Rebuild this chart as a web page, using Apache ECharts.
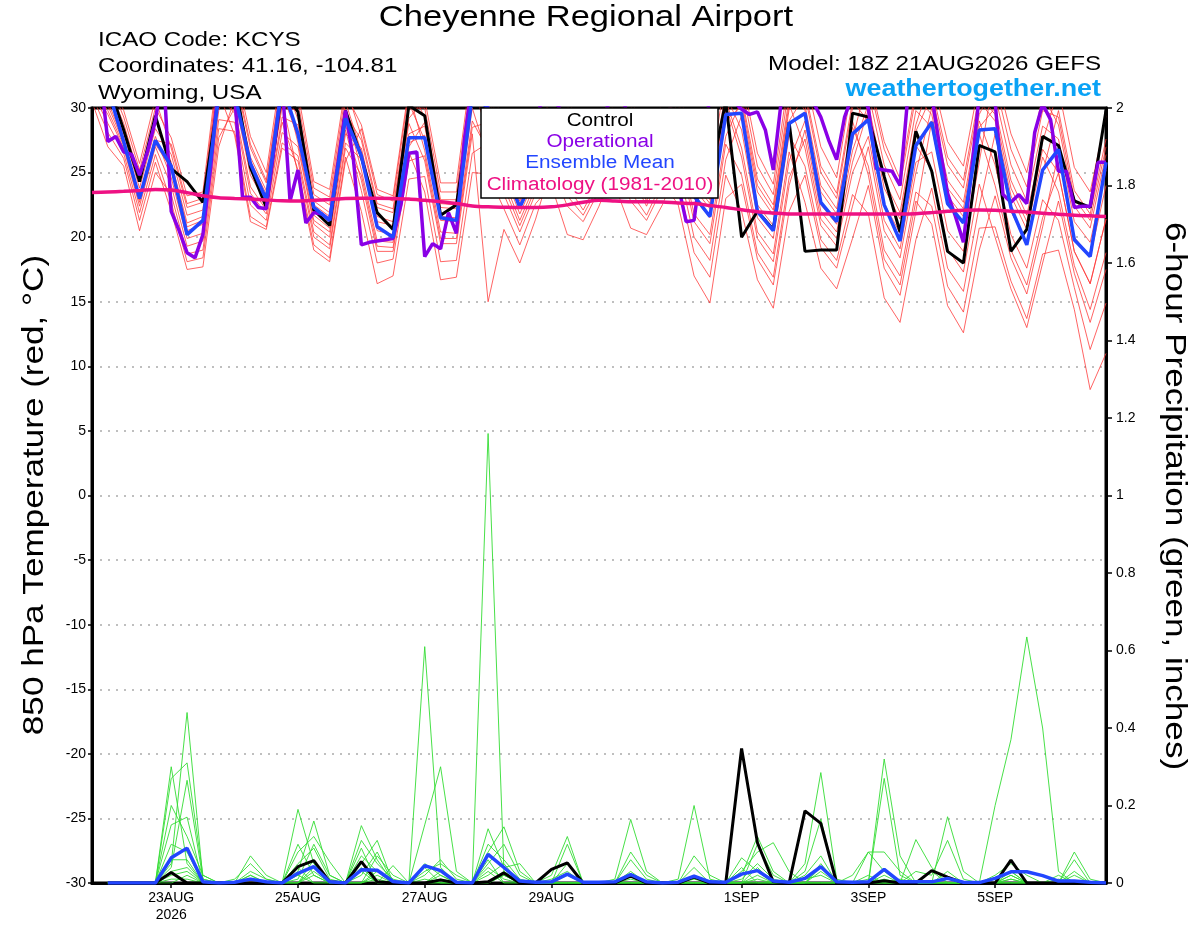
<!DOCTYPE html>
<html>
<head>
<meta charset="utf-8">
<title>Cheyenne Regional Airport</title>
<script src="https://cdn.jsdelivr.net/npm/echarts@6.0.0/dist/echarts.min.js"></script>
<style>
  html, body { margin: 0; padding: 0; background: #fff; }
  #main { width: 1200px; height: 927px; }
</style>
</head>
<body>
<div id="main"></div>
<script>
// time = hours since 18Z 21AUG2026 (6-hourly steps, operational run is 3-hourly)
const tickHours = [30, 78, 126, 174, 246, 294, 342];
const tickLabels = ['23AUG\n2026', '25AUG', '27AUG', '29AUG', '1SEP', '3SEP', '5SEP'];

// 850 hPa temperature, deg C, 6-hourly from 18Z 21AUG
const controlTemp = [33.0, 32.0, 28.3, 24.3, 29.4, 25.3, 24.3, 22.7, 31.0, 32.0, 25.4, 22.3, 31.5, 29.7, 22.1, 20.9,
  29.8, 26.2, 21.9, 20.6, 30.2, 29.4, 21.7, 22.5, 31.0, 30.0, 27.0, 24.0, 26.0, 29.0, 28.0, 24.5,
  26.0, 29.0, 28.5, 24.5, 27.0, 29.5, 27.0, 24.5, 30.5, 20.0, 22.0, 20.6, 28.9, 18.9, 19.0, 19.0,
  29.6, 29.3, 24.7, 20.4, 28.2, 25.1, 18.9, 18.0, 27.1, 26.6, 18.9, 20.6, 27.8, 27.1, 22.8, 22.3, 29.8];

const meanTemp = [32.5, 31.5, 27.4, 23.0, 27.5, 25.5, 20.2, 21.3, 31.0, 31.1, 25.7, 22.9, 31.8, 28.0, 22.3, 21.3,
  29.2, 26.3, 20.8, 20.0, 27.7, 27.7, 21.5, 21.3, 31.0, 30.0, 25.5, 22.3, 25.0, 29.5, 28.5, 24.5,
  26.0, 29.5, 28.0, 24.0, 27.0, 29.0, 23.2, 21.6, 29.5, 29.6, 22.0, 20.5, 28.8, 29.6, 22.7, 21.2,
  28.0, 29.1, 22.5, 19.7, 27.1, 28.9, 22.6, 21.1, 28.3, 28.4, 22.3, 19.4, 25.2, 26.8, 19.8, 18.5, 25.8];

const climoTemp = [23.45, 23.5, 23.55, 23.62, 23.7, 23.65, 23.45, 23.2, 23.05, 23.0, 22.95, 22.88, 22.82, 22.8, 22.85, 22.92,
  23.0, 23.02, 23.02, 23.0, 22.95, 22.85, 22.75, 22.6, 22.42, 22.35, 22.32, 22.3, 22.3, 22.35, 22.5, 22.7,
  22.85, 22.8, 22.75, 22.75, 22.72, 22.65, 22.6, 22.45, 22.3, 22.12, 21.97, 21.88, 21.8, 21.8, 21.8, 21.8,
  21.8, 21.8, 21.8, 21.8, 21.82, 21.9, 22.0, 22.08, 22.1, 22.08, 22.0, 21.95, 21.85, 21.78, 21.7, 21.65, 21.6];

// operational run, 3-hourly from 18Z 21AUG
const operationalTemp = [34, 33, 27.4, 27.8, 26.6, 26.4, 24.8, 26.6, 29.0, 33,
  22.0, 20.5, 18.8, 18.4, 20.2, 25.5, 32, 33, 31, 23.1,
  23.1, 22.3, 22.2, 27, 32, 22.8, 25.2, 21.1, 21.9, 21.8,
  21.3, 25.5, 29.8, 26, 19.4, 19.6, 19.7, 19.8, 19.9, 22.5,
  26.5, 26.6, 18.5, 19.5, 19.1, 21.9, 20.3, 27.5, 32, 31,
  30, 27, 25, 24.5, 24, 26, 29, 31, 31, 30,
  27, 25, 24, 24.5, 27, 30, 31.5, 31, 28, 26,
  25, 24.5, 27, 30, 24, 21.2, 21.3, 26, 31, 31,
  31, 30.5, 29.9, 29.5, 29.7, 28.3, 25.2, 30.5, 32, 32,
  31, 30.5, 29.3, 27.5, 26.0, 29.3, 31, 31, 30, 25.3,
  25.2, 25.1, 24.0, 31, 32, 32, 31, 27, 23.4, 21.6,
  19.6, 25, 31, 31.5, 30.5, 23.3, 22.7, 23.3, 22.6, 28.1,
  30.3, 29.1, 25.1, 25.1, 22.3, 22.4, 22.4, 25.8, 25.8];

// ensemble members, 6-hourly from 18Z 21AUG
const memberTemp = [
  [32.4, 31.0, 28.0, 23.8, 28.4, 26.4, 21.7, 22.1, 31.9, 32.8, 27.2, 24.4, 32.6, 29.1, 22.8, 21.9, 29.9, 25.2, 19.7, 19.6, 27.3, 27.9, 21.6, 21.5, 30.4, 30.3, 27.5, 23.7, 27.0, 31.3, 30.2, 26.8, 29.2, 29.9, 28.6, 24.9, 28.1, 26.7, 21.2, 19.5, 27.2, 24.8, 18.8, 16.9, 24.6, 27.6, 21.4, 19.9, 25.8, 29.9, 23.8, 21.4, 28.2, 31.0, 25.6, 23.8, 30.5, 29.0, 23.2, 20.6, 26.2, 23.5, 17.8, 14.4, 18.8],
  [31.3, 28.8, 26.5, 21.9, 26.4, 22.7, 18.1, 18.4, 27.7, 30.0, 23.9, 22.1, 29.3, 28.7, 22.5, 21.6, 29.6, 27.5, 22.3, 21.9, 30.0, 30.0, 23.5, 23.5, 32.8, 29.2, 26.3, 22.8, 25.8, 26.5, 24.0, 22.1, 24.4, 24.0, 20.7, 20.2, 22.5, 25.5, 20.0, 18.2, 26.0, 29.4, 22.5, 20.9, 29.0, 31.0, 25.0, 23.0, 30.0, 32.1, 26.8, 24.0, 30.9, 29.5, 23.8, 22.2, 29.0, 25.6, 20.2, 17.6, 22.9, 21.3, 16.1, 11.3, 14.9],
  [33.4, 32.3, 29.3, 25.2, 30.0, 27.7, 23.2, 23.5, 33.7, 32.5, 26.9, 24.2, 32.3, 27.3, 21.3, 20.4, 28.3, 23.6, 18.0, 18.3, 25.9, 26.3, 19.9, 19.9, 28.5, 28.9, 25.9, 22.6, 25.4, 29.6, 28.2, 25.1, 27.2, 30.6, 29.4, 25.6, 28.9, 31.7, 26.6, 24.7, 32.6, 31.8, 25.5, 23.3, 31.7, 29.8, 23.5, 21.8, 28.5, 25.5, 19.0, 17.0, 23.5, 22.4, 16.2, 14.2, 20.7, 20.8, 16.6, 13.7, 18.7, 19.0, 14.4, 8.2, 11.0],
  [31.7, 29.8, 27.1, 22.7, 27.2, 25.3, 20.5, 21.0, 30.5, 31.9, 26.2, 23.6, 31.6, 30.5, 23.8, 23.1, 31.1, 28.7, 23.7, 23.2, 31.6, 29.3, 22.9, 22.9, 32.0, 27.9, 25.0, 21.8, 24.6, 26.0, 23.2, 21.7, 24.0, 27.5, 25.6, 22.8, 25.6, 29.2, 23.8, 22.2, 29.8, 31.0, 24.5, 22.5, 30.8, 32.6, 27.0, 24.6, 32.0, 31.2, 25.6, 22.9, 29.8, 28.5, 22.6, 21.1, 28.0, 24.0, 19.0, 16.3, 21.5, 25.0, 18.9, 16.4, 21.4],
  [30.5, 27.0, 25.5, 20.5, 25.0, 23.3, 18.7, 19.0, 28.4, 28.2, 21.6, 20.8, 27.3, 26.3, 20.4, 19.4, 27.3, 26.0, 20.5, 20.2, 28.0, 28.6, 22.3, 22.2, 31.2, 30.6, 27.9, 23.9, 27.4, 29.2, 27.8, 24.7, 26.8, 27.0, 24.9, 22.4, 25.2, 24.3, 18.8, 16.9, 24.8, 22.0, 16.7, 14.5, 22.0, 24.8, 19.2, 17.6, 22.4, 27.0, 20.5, 18.4, 25.0, 30.0, 24.4, 22.7, 29.5, 32.0, 26.8, 23.9, 29.8, 29.3, 23.0, 21.3, 27.0],
  [33.0, 31.8, 28.8, 24.6, 29.4, 25.6, 20.8, 21.3, 30.9, 29.6, 23.4, 21.8, 28.9, 25.2, 19.4, 18.4, 26.2, 22.0, 16.4, 17.0, 24.5, 24.7, 18.1, 18.2, 26.5, 27.3, 24.4, 21.3, 24.2, 29.9, 28.6, 25.4, 27.6, 31.3, 30.2, 26.3, 29.7, 30.3, 25.0, 23.3, 31.0, 28.3, 21.5, 19.9, 27.9, 25.5, 19.8, 18.2, 23.3, 21.8, 15.3, 13.4, 19.8, 23.8, 17.6, 15.8, 22.4, 28.0, 22.0, 19.5, 25.0, 29.8, 23.6, 21.8, 27.6],
  [31.6, 29.5, 26.9, 22.4, 27.0, 24.0, 19.3, 19.7, 29.1, 28.9, 22.5, 21.3, 28.1, 27.0, 21.0, 20.0, 28.0, 26.9, 21.6, 21.2, 29.2, 30.7, 24.2, 24.2, 33.6, 31.0, 28.3, 24.2, 27.8, 28.5, 27.0, 24.0, 26.0, 26.0, 23.5, 21.7, 24.3, 22.5, 17.0, 14.9, 23.0, 24.1, 18.3, 16.3, 24.0, 28.3, 22.0, 20.4, 26.7, 30.3, 24.4, 21.9, 28.7, 32.5, 27.4, 25.5, 32.0, 31.0, 25.6, 22.8, 28.6, 27.6, 21.2, 19.6, 25.2],
  [33.8, 32.8, 29.8, 25.7, 30.7, 26.9, 22.3, 22.7, 32.6, 31.6, 25.9, 23.3, 31.2, 27.7, 21.7, 20.7, 28.7, 24.4, 18.9, 18.9, 26.6, 23.5, 16.7, 16.9, 25.0, 24.9, 22.2, 19.4, 22.6, 24.0, 20.2, 19.8, 22.4, 25.5, 22.8, 21.3, 23.8, 28.5, 23.0, 21.5, 29.0, 30.2, 23.5, 21.7, 29.9, 31.4, 25.5, 23.4, 30.5, 29.0, 22.6, 20.3, 27.1, 25.2, 19.1, 17.3, 24.1, 20.0, 16.0, 13.0, 18.0, 22.8, 17.2, 13.4, 17.5],
  [32.0, 30.5, 27.5, 23.2, 27.8, 24.6, 19.9, 20.3, 29.8, 33.4, 27.8, 25.0, 33.3, 31.2, 24.3, 23.7, 31.7, 27.8, 22.6, 22.2, 30.4, 27.5, 21.3, 21.2, 30.0, 26.1, 23.3, 20.4, 23.4, 28.0, 26.2, 23.5, 25.6, 29.2, 27.8, 24.2, 27.3, 30.6, 25.4, 23.6, 31.4, 32.6, 26.5, 24.1, 32.6, 30.2, 24.0, 22.2, 29.0, 24.8, 18.3, 16.3, 22.8, 21.0, 14.7, 12.6, 19.0, 23.2, 18.4, 15.6, 20.8, 26.5, 20.0, 18.5, 24.0],
  [31.0, 28.1, 26.1, 21.3, 25.8, 22.0, 17.5, 17.7, 27.0, 30.7, 24.8, 22.6, 30.1, 29.8, 23.3, 22.5, 30.5, 26.6, 21.2, 20.9, 28.8, 25.9, 19.5, 19.5, 28.0, 15.0, 20.6, 18.0, 21.4, 25.5, 22.4, 21.2, 23.6, 28.5, 27.0, 23.5, 26.5, 29.9, 24.6, 22.9, 30.6, 26.9, 20.4, 18.7, 26.6, 22.7, 17.6, 16.0, 19.9, 24.0, 17.6, 15.5, 22.0, 29.0, 23.2, 21.6, 28.5, 30.0, 24.4, 21.7, 27.4, 31.5, 25.4, 23.5, 29.4],
  [32.8, 31.5, 28.5, 24.3, 29.1, 25.8, 21.1, 21.6, 31.2, 27.9, 21.2, 20.6, 26.9, 25.9, 20.0, 19.1, 26.9, 24.8, 19.3, 19.2, 27.0, 28.9, 22.6, 22.5, 31.6, 31.7, 29.1, 24.7, 28.6, 30.6, 29.4, 26.1, 28.4, 32.0, 31.0, 27.0, 30.5, 29.6, 24.2, 22.6, 30.2, 26.2, 19.9, 18.1, 25.9, 29.0, 22.5, 21.0, 27.5, 32.6, 27.4, 24.5, 31.5, 31.5, 26.2, 24.4, 31.0, 29.5, 23.8, 21.2, 26.8, 25.0, 18.9, 16.4, 21.4],
  [31.9, 30.2, 27.3, 22.9, 27.5, 27.2, 22.6, 23.0, 33.0, 31.0, 25.2, 22.8, 30.5, 24.9, 19.0, 18.1, 25.9, 28.4, 23.3, 22.8, 31.2, 26.7, 20.4, 20.3, 29.0, 26.7, 23.9, 20.9, 23.8, 32.0, 31.0, 27.5, 30.0, 28.0, 26.3, 23.1, 26.1, 27.3, 21.8, 20.2, 27.8, 30.6, 24.0, 22.1, 30.3, 26.9, 20.9, 19.3, 25.0, 27.8, 21.3, 19.1, 25.8, 26.6, 20.5, 18.9, 25.8, 33.0, 28.0, 25.0, 31.0, 28.7, 22.4, 20.7, 26.4]
];

// 6-hour precipitation, inches, 6-hourly from 00Z 22AUG
const controlPrecip = [0, 0, 0, 0, 0.027, 0, 0, 0, 0, 0, 0, 0, 0.042, 0.058, 0.003, 0,
  0.055, 0.003, 0, 0, 0, 0.008, 0, 0, 0.003, 0.026, 0, 0, 0.035, 0.052, 0, 0,
  0, 0.018, 0, 0, 0, 0.015, 0, 0, 0.347, 0.104, 0.003, 0, 0.186, 0.154, 0, 0,
  0, 0.006, 0, 0, 0.032, 0.015, 0, 0, 0, 0.059, 0, 0, 0, 0.002, 0, 0];

const meanPrecip = [0, 0, 0, 0, 0.065, 0.09, 0.003, 0, 0.002, 0.01, 0.003, 0, 0.025, 0.042, 0.003, 0,
  0.034, 0.033, 0.004, 0, 0.045, 0.032, 0.002, 0, 0.074, 0.04, 0.005, 0.002, 0.003, 0.023, 0.002, 0.002,
  0.003, 0.022, 0.003, 0, 0.002, 0.018, 0.003, 0.002, 0.023, 0.032, 0.005, 0.002, 0.012, 0.042, 0.003, 0.002,
  0.003, 0.035, 0.003, 0.003, 0.003, 0.012, 0.002, 0.001, 0.012, 0.029, 0.029, 0.019, 0.005, 0.005, 0.002, 0];

const memberPrecip = [
  [0, 0, 0, 0, 0.30, 0.05, 0, 0, 0, 0, 0, 0, 0, 0.02, 0, 0, 0, 0.03, 0, 0, 0, 0, 0, 0, 0.02, 0.05, 0, 0, 0, 0.02, 0, 0, 0, 0, 0, 0, 0, 0, 0, 0, 0, 0.01, 0, 0, 0, 0, 0, 0, 0, 0, 0, 0, 0, 0, 0, 0, 0, 0, 0, 0, 0, 0, 0, 0],
  [0, 0, 0, 0, 0.02, 0.03, 0, 0, 0, 0.07, 0.02, 0, 0.19, 0.05, 0, 0, 0.148, 0.06, 0, 0, 0.15, 0.30, 0.03, 0, 0, 0.02, 0, 0, 0, 0, 0, 0, 0, 0.03, 0, 0, 0, 0, 0, 0, 0.065, 0.03, 0, 0, 0, 0.05, 0, 0, 0.08, 0.08, 0.03, 0, 0, 0, 0, 0, 0, 0.03, 0, 0, 0.02, 0, 0, 0],
  [0, 0, 0, 0, 0.27, 0.31, 0.02, 0, 0, 0, 0, 0, 0.03, 0.16, 0.02, 0, 0.05, 0.11, 0, 0, 0, 0.02, 0, 0, 0.14, 0.04, 0.05, 0, 0, 0, 0, 0, 0, 0, 0, 0, 0, 0.07, 0.02, 0, 0.02, 0.12, 0.03, 0, 0, 0, 0, 0, 0, 0, 0, 0, 0, 0, 0, 0, 0.20, 0.37, 0.635, 0.40, 0.03, 0, 0, 0],
  [0, 0, 0, 0, 0.05, 0.44, 0.01, 0, 0, 0.02, 0, 0, 0.08, 0.12, 0.055, 0, 0, 0.02, 0, 0, 0.61, 0.04, 0, 0, 0.05, 0.10, 0.02, 0, 0.02, 0.12, 0, 0, 0, 0, 0, 0, 0, 0, 0, 0, 0, 0, 0, 0, 0.02, 0.07, 0, 0, 0, 0.32, 0.07, 0, 0.03, 0, 0, 0, 0, 0.02, 0, 0, 0, 0, 0, 0],
  [0, 0, 0, 0, 0.15, 0.17, 0, 0, 0, 0, 0, 0, 0, 0.03, 0, 0, 0.09, 0, 0.045, 0, 0.04, 0, 0, 0, 1.16, 0.03, 0, 0, 0, 0, 0, 0, 0.01, 0.164, 0.03, 0, 0, 0.02, 0, 0, 0.03, 0.08, 0.104, 0.03, 0, 0, 0, 0, 0.02, 0, 0, 0, 0, 0, 0, 0, 0, 0.01, 0, 0, 0, 0.08, 0.01, 0],
  [0, 0, 0, 0, 0, 0.02, 0, 0, 0.01, 0.05, 0.01, 0, 0.05, 0.09, 0.01, 0, 0.02, 0.08, 0, 0, 0, 0.03, 0, 0, 0.08, 0.145, 0.03, 0, 0, 0, 0, 0, 0, 0.06, 0.01, 0, 0, 0, 0, 0, 0, 0.02, 0, 0, 0.05, 0.285, 0.01, 0, 0, 0, 0, 0.112, 0.04, 0, 0, 0, 0, 0, 0, 0, 0, 0, 0, 0],
  [0, 0, 0, 0, 0.04, 0.265, 0.01, 0, 0, 0, 0, 0, 0.02, 0, 0, 0, 0.11, 0.05, 0.01, 0, 0.02, 0.06, 0.01, 0, 0.03, 0, 0, 0, 0, 0.05, 0, 0, 0, 0, 0, 0, 0.01, 0.20, 0.01, 0, 0, 0, 0, 0, 0, 0, 0, 0, 0, 0.27, 0.02, 0, 0, 0, 0, 0, 0.02, 0.05, 0.02, 0, 0, 0.06, 0, 0],
  [0, 0, 0, 0, 0.10, 0.08, 0, 0, 0, 0.01, 0, 0, 0, 0.06, 0, 0, 0, 0.01, 0, 0, 0, 0, 0, 0, 0, 0.02, 0, 0, 0.01, 0.03, 0, 0, 0, 0.02, 0, 0, 0, 0, 0, 0, 0.01, 0.05, 0.01, 0, 0.03, 0.165, 0, 0, 0, 0.02, 0, 0, 0, 0, 0, 0, 0, 0, 0, 0, 0.01, 0, 0, 0],
  [0, 0, 0, 0, 0.01, 0.01, 0, 0, 0, 0.03, 0.01, 0, 0.10, 0.02, 0, 0, 0.03, 0, 0, 0, 0.05, 0.02, 0, 0, 0.10, 0.06, 0.01, 0, 0, 0, 0, 0, 0, 0, 0, 0, 0, 0.04, 0, 0, 0, 0, 0, 0, 0, 0.03, 0, 0.02, 0.08, 0.03, 0, 0, 0, 0.171, 0.03, 0, 0, 0.02, 0, 0, 0, 0.02, 0, 0],
  [0, 0, 0, 0, 0.03, 0.04, 0, 0, 0, 0, 0, 0, 0.01, 0.10, 0.02, 0, 0.07, 0.03, 0, 0, 0.01, 0, 0, 0, 0.04, 0.01, 0, 0, 0, 0, 0, 0, 0, 0.08, 0.02, 0, 0, 0, 0, 0, 0, 0.10, 0.02, 0, 0, 0, 0, 0, 0, 0, 0, 0, 0, 0, 0, 0, 0.01, 0.03, 0, 0, 0, 0, 0, 0],
  [0, 0, 0, 0, 0.20, 0.12, 0.02, 0, 0, 0, 0, 0, 0.04, 0, 0, 0, 0, 0.07, 0.02, 0, 0, 0.01, 0, 0, 0.06, 0, 0, 0, 0, 0.10, 0, 0, 0, 0, 0, 0, 0, 0.01, 0, 0, 0.04, 0, 0, 0, 0.01, 0.02, 0, 0, 0, 0.01, 0, 0.03, 0.02, 0.11, 0.01, 0, 0, 0, 0, 0, 0, 0.03, 0, 0],
  [0, 0, 0, 0, 0.06, 0.06, 0, 0, 0, 0.02, 0, 0, 0, 0.04, 0, 0, 0.04, 0, 0, 0, 0.03, 0.05, 0.02, 0, 0, 0.03, 0, 0, 0, 0, 0, 0, 0, 0.01, 0, 0, 0, 0, 0, 0, 0, 0.04, 0, 0, 0, 0.04, 0, 0, 0.01, 0, 0.01, 0, 0, 0.03, 0, 0, 0, 0.01, 0, 0, 0, 0, 0, 0]
];

const FONT = '"Liberation Sans", Arial, Helvetica, sans-serif';
const RED = '#ff3333';
const GREEN = '#33dd33';
const PURPLE = '#8a00e6';
const BLUE = '#2246ff';
const PINK = '#ee1183';

// [hour, value] pairs; first = index of the first value, step = hours between values
function timed(values, step, first) {
  return values.map((v, k) => [(first + k) * step, v]);
}

function line(name, data, color, width, axis, extra) {
  return Object.assign({
    name: name,
    type: 'line',
    yAxisIndex: axis,
    data: data,
    symbol: 'none',
    showSymbol: false,
    silent: true,
    animation: false,
    lineStyle: { color: color, width: width },
    itemStyle: { color: color }
  }, extra || {});
}

// text drawn with a horizontal stretch (the original lettering is wider than Arial)
function label(text, x, y, size, align, color, stretch, rotation, weight) {
  return {
    type: 'text', z: 100, x: x, y: y, scaleX: stretch, rotation: rotation || 0,
    style: {
      text: text, x: 0, y: 0, fill: color,
      font: (weight ? weight + ' ' : '') + size + 'px ' + FONT,
      align: align, verticalAlign: 'middle', textAlign: align, textVerticalAlign: 'middle'
    }
  };
}

const series = [];
memberTemp.forEach((m, k) => series.push(line('member ' + (k + 1), timed(m, 6, 0), RED, 0.9, 0, { z: 1, lineStyle: { color: RED, width: 0.9, opacity: 0.85 } })));
memberPrecip.forEach((m, k) => series.push(line('member p' + (k + 1), timed(m, 6, 1), GREEN, 0.9, 1, { z: 1 })));
series.push(line('Control', timed(controlTemp, 6, 0), '#000', 3, 0, { z: 3 }));
series.push(line('Control precip', timed(controlPrecip, 6, 1), '#000', 3, 1, { z: 3 }));
series.push(line('Operational', timed(operationalTemp, 3, 0), PURPLE, 3.5, 0, { z: 4 }));
series.push(line('Ensemble Mean', timed(meanTemp, 6, 0), BLUE, 3.5, 0, { z: 5 }));
series.push(line('Ensemble Mean precip', timed(meanPrecip, 6, 1), BLUE, 3.5, 1, { z: 5 }));
series.push(line('Climatology (1981-2010)', timed(climoTemp, 6, 0), PINK, 3.5, 0, { z: 6, smooth: 0.3 }));

const chart = echarts.init(document.getElementById('main'));

chart.setOption({
  animation: false,
  backgroundColor: '#fff',
  textStyle: { fontFamily: FONT },
  grid: { left: 92, right: 94, top: 108, bottom: 44, show: true, borderColor: '#000', borderWidth: 3, backgroundColor: 'transparent' },
  xAxis: {
    type: 'value',
    min: 0,
    max: 384,
    axisLine: { show: true, onZero: false, lineStyle: { color: '#000', width: 3 } },
    axisTick: { show: true, customValues: tickHours, length: 5, lineStyle: { color: '#000', width: 1.5 } },
    axisLabel: {
      customValues: tickHours,
      formatter: v => tickLabels[tickHours.indexOf(v)] || '',
      color: '#000', fontSize: 14, fontFamily: FONT, margin: 7, lineHeight: 17
    },
    splitLine: { show: false }
  },
  yAxis: [
    {
      type: 'value',
      min: -30, max: 30, interval: 5,
      position: 'left',
      axisLine: { show: true, onZero: false, lineStyle: { color: '#000', width: 3 } },
      axisTick: { show: true, length: 4, lineStyle: { color: '#000', width: 1.5 } },
      axisLabel: { color: '#000', fontSize: 14, fontFamily: FONT, margin: 6 },
      splitLine: { show: true, showMinLine: false, showMaxLine: false, lineStyle: { color: '#aaa', width: 1.5, type: [2, 6] } }
    },
    {
      type: 'value',
      min: 0, max: 2, interval: 0.2,
      position: 'right',
      axisLine: { show: true, onZero: false, lineStyle: { color: '#000', width: 3 } },
      axisTick: { show: true, length: 6, lineStyle: { color: '#000', width: 1.5 } },
      axisLabel: { color: '#000', fontSize: 14, fontFamily: FONT, margin: 10, formatter: v => String(Math.round(v * 10) / 10) },
      splitLine: { show: false }
    }
  ],
  graphic: [
    label('Cheyenne Regional Airport', 586, 18, 30, 'center', '#000', 1.15),
    label('ICAO Code: KCYS', 98, 40, 21, 'left', '#000', 1.15),
    label('Coordinates: 41.16, -104.81', 98, 66, 21, 'left', '#000', 1.15),
    label('Wyoming, USA', 98, 93, 21, 'left', '#000', 1.15),
    label('Model: 18Z 21AUG2026 GEFS', 1101, 64, 21, 'right', '#000', 1.15),
    label('weathertogether.net', 1101, 89, 24, 'right', '#0aa2f5', 1.12, 0, 'bold'),
    label('850 hPa Temperature (red, \u00b0C)', 35, 495, 30, 'center', '#000', 1.17, Math.PI / 2),
    label('6-hour Precipitation (green, inches)', 1174, 496, 30, 'center', '#000', 1.17, -Math.PI / 2),
    // legend box
    { type: 'rect', z: 100, shape: { x: 481, y: 108, width: 237, height: 90 }, style: { fill: '#fff', stroke: '#000', lineWidth: 1.5 } },
    Object.assign(label('Control', 600, 121, 18, 'center', '#000', 1.15), { z: 101 }),
    Object.assign(label('Operational', 600, 142, 18, 'center', PURPLE, 1.15), { z: 101 }),
    Object.assign(label('Ensemble Mean', 600, 163, 18, 'center', BLUE, 1.15), { z: 101 }),
    Object.assign(label('Climatology (1981-2010)', 600, 185, 18, 'center', PINK, 1.15), { z: 101 })
  ],
  series: series
});
</script>
</body>
</html>
